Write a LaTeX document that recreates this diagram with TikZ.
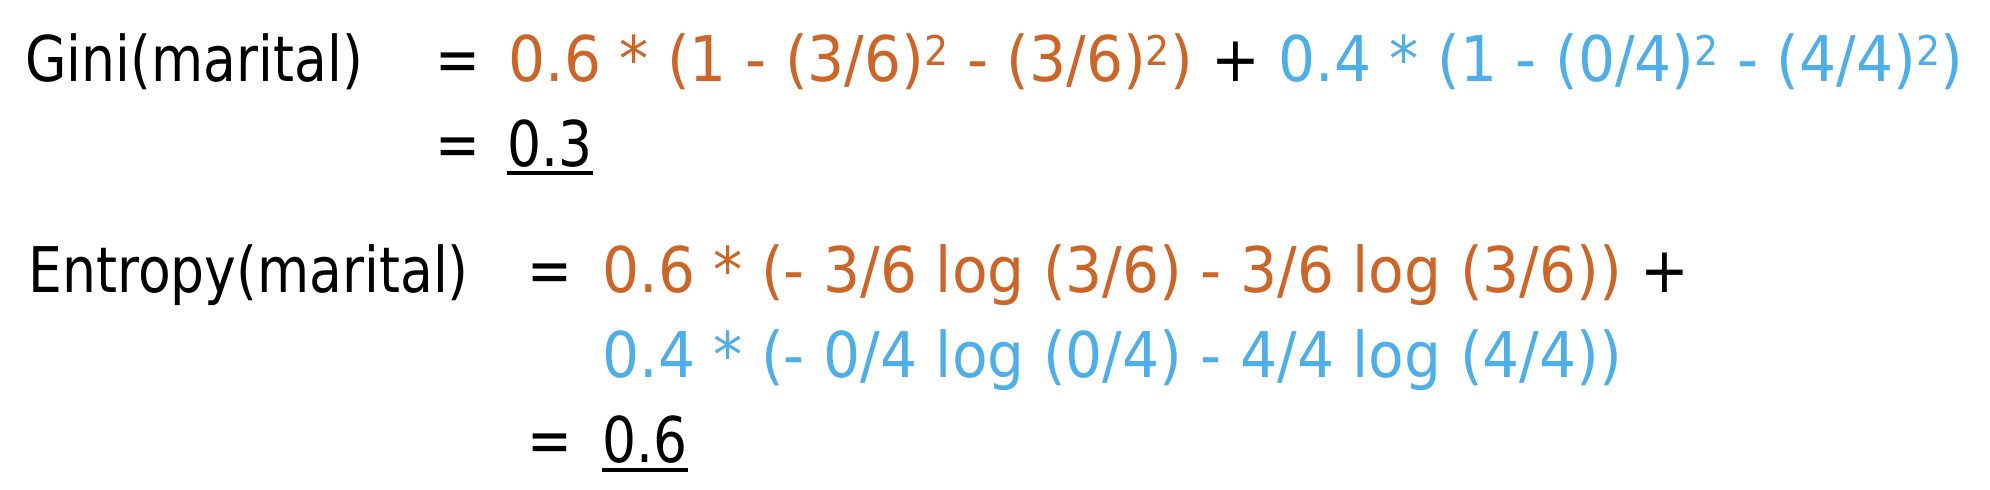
\documentclass[tikz,border=0pt]{standalone}
\usepackage{fontspec}
\setmainfont{DejaVu Sans}[FakeStretch=0.85]
\newfontfamily\exprfont{DejaVu Sans}[FakeStretch=0.925]
\definecolor{orng}{RGB}{204,102,40}
\definecolor{blu}{RGB}{78,175,232}
\newcommand{\sqr}{\raisebox{8pt}{\fontsize{20.5}{24}\selectfont 2}}
\begin{document}
\begin{tikzpicture}[x=0.5pt,y=-0.5pt,
  txt/.style={inner sep=0pt,anchor=base west,font=\fontsize{31.5}{38}\selectfont},
  expr/.style={txt,font=\fontsize{31.5}{38}\exprfont},
  uline/.style={line width=1.75pt}]
\useasboundingbox (0,0) rectangle (1990,490);
% Gini
\node[txt] (gl) at (25,82) {Gini(marital)};
\node[txt] (ge1) at (435,82) {=};
\node[expr] (gx) at (508,82) {{\color{orng}0.6 * (1 - (3/6)\sqr{} - (3/6)\sqr)} + {\color{blu}0.4 * (1 - (0/4)\sqr{} - (4/4)\sqr)}};
\node[txt] (ge2) at (435,167) {=};
\node[txt] (gr) at (507,167) {0.3};
\draw[uline] ([yshift=-3pt]gr.base west) -- ([yshift=-3pt]gr.base east);
% Entropy
\node[txt] (el) at (28,293) {Entropy(marital)};
\node[txt] (ee1) at (527,293) {=};
\node[expr] (ex1) at (602,293) {{\color{orng}0.6 * (- 3/6 log (3/6) - 3/6 log (3/6))} +};
\node[expr] (ex2) at (602,378) {{\color{blu}0.4 * (- 0/4 log (0/4) - 4/4 log (4/4))}};
\node[txt] (ee2) at (527,463) {=};
\node[txt] (er) at (602,463) {0.6};
\draw[uline] ([yshift=-3.5pt]er.base west) -- ([yshift=-3.5pt]er.base east);
\end{tikzpicture}
\end{document}
